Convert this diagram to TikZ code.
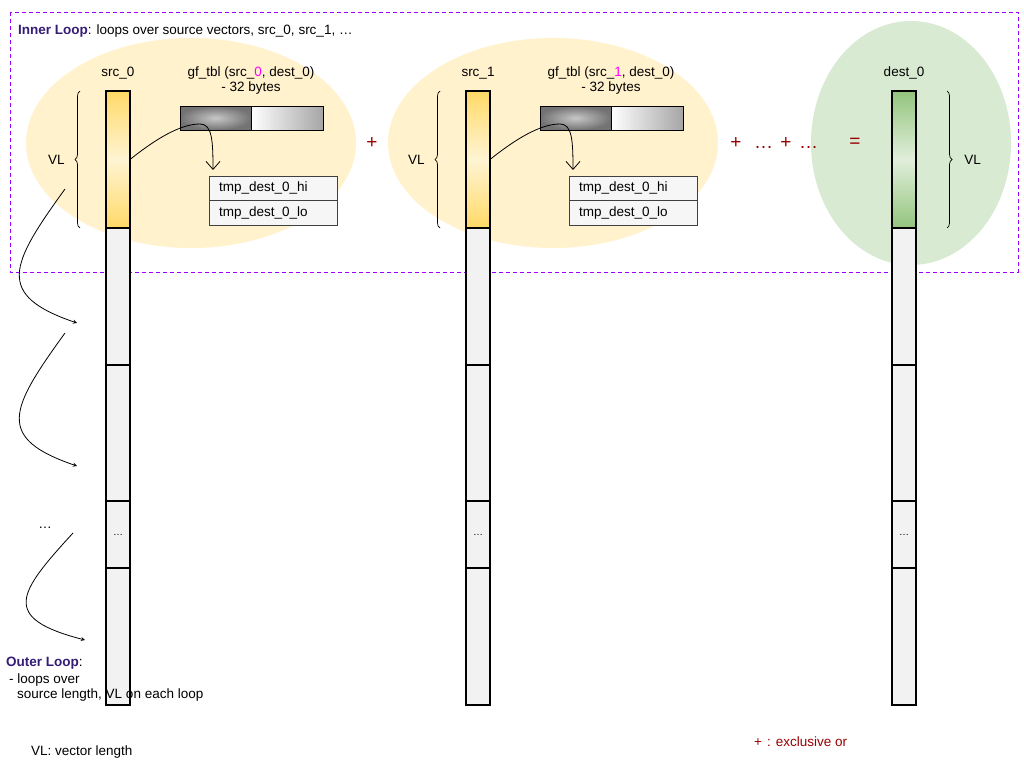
\documentclass[tikz,border=0pt]{standalone}
\usepackage{fontspec}
\setmainfont{Liberation Sans}
\usetikzlibrary{positioning, decorations.pathreplacing, arrows.meta}
\tikzset{>=stealth}
\definecolor{loopborder}{HTML}{9900FF}
\definecolor{looptitle}{HTML}{351C75}
\definecolor{srcfill}{HTML}{FFF2CC}
\definecolor{srccell}{HTML}{FFD966}
\definecolor{dstfill}{HTML}{D9EAD3}
\definecolor{dstcell}{HTML}{93C47D}
\definecolor{cellgray}{HTML}{F2F2F2}
\definecolor{xorred}{HTML}{990000}
\definecolor{idxpink}{HTML}{FF00FF}
\tikzset{
  txt/.style={font=\fontsize{13.5}{16}\selectfont, inner sep=0pt},
  cell/.style={draw, line width=1.1pt, fill=cellgray, minimum width=24pt, minimum height=137pt,
    inner sep=0pt, outer sep=0pt, anchor=north, font=\fontsize{10}{12}\selectfont},
  vlbrace/.style={decorate, decoration={brace, amplitude=5pt}, line width=0.7pt},
  gfhi/.style={draw, line width=0.8pt, minimum width=71pt, minimum height=24pt, inner sep=0pt,
    outer sep=0pt, inner color=black!22, outer color=black!55},
  gflo/.style={draw, line width=0.8pt, minimum width=72pt, minimum height=24pt, inner sep=0pt,
    outer sep=0pt, left color=white, right color=black!35},
  tmpbox/.style={txt, draw=black!75, line width=0.7pt, fill=cellgray!70, minimum height=24.5pt,
    text width=108pt, inner xsep=10pt, outer sep=0pt, align=left, anchor=north west},
  fetch/.style={line width=0.8pt, -{Straight Barb[length=8pt, width=14pt, line width=0.8pt]}},
  outer/.style={line width=0.8pt, ->},
  xorsym/.style={txt, text=xorred, font=\fontsize{19}{22}\selectfont, anchor=base}
}
\begin{document}
\begin{tikzpicture}[x=1pt, y=-1pt]
  \useasboundingbox (0,0) rectangle (1024,768);
  \fill[white] (0,0) rectangle (1024,768);

  % inner loop frame
  \draw[loopborder, line width=0.8pt, dash pattern=on 4pt off 3pt] (10,12) rectangle (1018,272);
  \node[txt, anchor=base west] (inner) at (18,35)
    {\textcolor{looptitle}{\textbf{Inner Loop}}: loops over source vectors, src\_0, src\_1, …};

  \foreach \dx in {0,362} \fill[srcfill] (191+\dx,143) ellipse [x radius=165, y radius=105];
  \fill[dstfill] (911,143) ellipse [x radius=100, y radius=122];

  \foreach \c/\x/\cc in {s0/118/srccell, s1/478/srccell, d0/904/dstcell}{
    \node[cell, top color=\cc, bottom color=\cc, middle color=\cc!28] (\c-1) at (\x,91) {};
    \node[cell, below=0pt of \c-1] (\c-2) {};
    \node[cell, minimum height=136pt, below=0pt of \c-2] (\c-3) {};
    \node[cell, minimum height=67pt, below=0pt of \c-3] (\c-4) {…};
    \node[cell, below=0pt of \c-4] (\c-5) {};
  }

  \foreach \i/\dx in {0/0, 1/360}{
    \begin{scope}[xshift=\dx pt]
      \node[txt, anchor=base] (sl\i) at (118,77) {src\_\i};
      \node[txt, anchor=base] (gl\i) at (251,77) {gf\_tbl (src\_\textcolor{idxpink}{\i}, dest\_0)};
      \node[txt, anchor=base] (gb\i) at (251,91) {- 32 bytes};
      \node[gfhi, anchor=north west] (ga\i) at (180,106) {};
      \node[gflo, right=0pt of ga\i] (gz\i) {};
      \node[tmpbox] (hi\i) at (209,176) {tmp\_dest\_0\_hi};
      \node[tmpbox, below=0pt of hi\i] (lo\i) {tmp\_dest\_0\_lo};
    \end{scope}
    \draw[vlbrace] ([xshift=-26pt]s\i-1.south west) -- ([xshift=-26pt]s\i-1.north west)
      node[txt, midway, left=15pt] (vl\i) {VL};
    \coordinate (bend\i) at ([xshift=20pt, yshift=6pt]ga\i.south west);
    \draw[fetch] (s\i-1.east) .. controls +(25,-20) and +(-20,0) .. (bend\i)
      .. controls +(12,0) and +(0,-30) .. ([xshift=4pt, yshift=6pt]hi\i.north west);
  }

  \node[txt, anchor=base] (dl) at (904,77) {dest\_0};
  \draw[vlbrace] ([xshift=31pt]d0-1.north east) -- ([xshift=31pt]d0-1.south east)
    node[txt, midway, right=17pt] (vld) {VL};

  \node[xorsym] (xor0) at (372,148) {+};
  \foreach \n/\x/\t in {a/736/+, b/763.5/…, c/786/+, d/808.5/…}
    \node[xorsym] (xor\n) at (\x,148) {\t};
  \node[xorsym] (eq) at (855,147) {=};

  % outer loop
  \foreach \n/\sx/\sy/\ex/\ey/\ax/\ay/\bx/\by in
    {1/65/189/77/323/-55/76/-82/-28, 2/65/333/77/466/-55/76/-82/-28, 3/73/533/85/640/-55/60/-85/-22}{
    \coordinate (os\n) at (\sx,\sy);
    \coordinate (oe\n) at (\ex,\ey);
    \draw[outer] (os\n) .. controls +(\ax,\ay) and +(\bx,\by) .. (oe\n);
  }
  \node[txt, anchor=base] (odots) at (45,528) {…};
  \node[txt, anchor=base west] (outerlbl) at (6,666) {\textcolor{looptitle}{\textbf{Outer Loop}}:};
  \node[txt, anchor=base west] (outer1) at (9,683) {- loops over};
  \node[txt, anchor=base west] (outer2) at (17,698) {source length, VL on each loop};
  \node[txt, anchor=base west] (vldef) at (31,755) {VL: vector length};
  \node[txt, anchor=base west, text=xorred] (xordef) at (754,746)
    {+\hspace{5pt}:\hspace{5pt}exclusive or};
\end{tikzpicture}
\end{document}
